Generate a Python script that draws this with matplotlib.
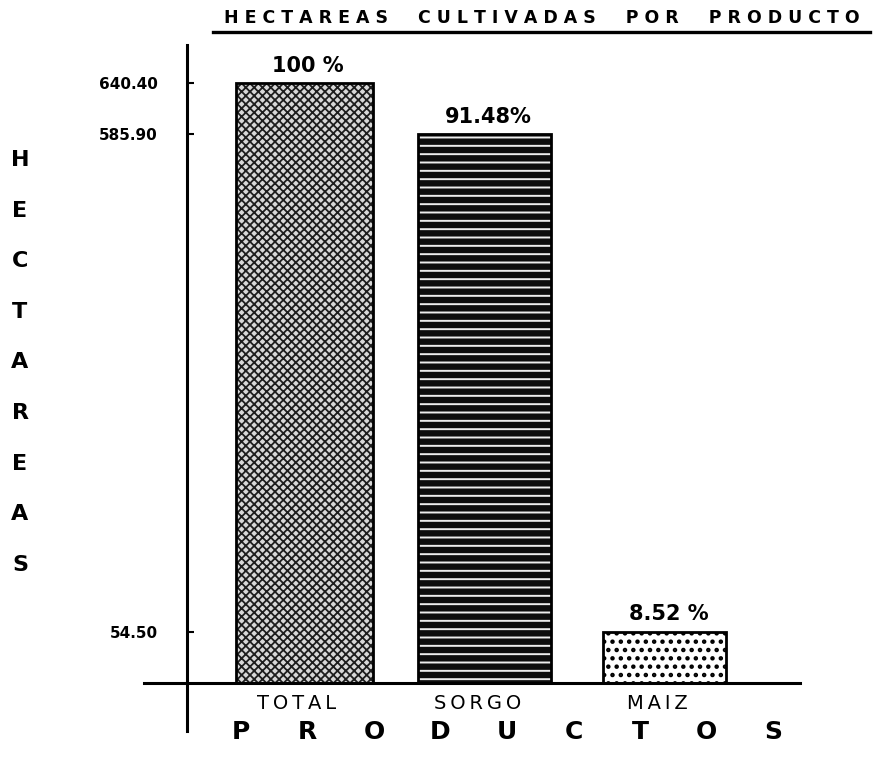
import matplotlib.pyplot as plt

plt.rcParams['font.family'] = ['DejaVu Sans']

# datos
productos = ['TOTAL', 'SORGO', 'MAIZ']
hectareas = [640.40, 585.90, 54.50]
porcentajes = ['100 %', '91.48%', '8.52 %']
ticks_y = [54.50, 585.90, 640.40]
tick_labels = ['54.50', '585.90', '640.40']

W, H = 878, 757
fig = plt.figure(figsize=(W / 100, H / 100), dpi=100)
ax = fig.add_axes([187 / W, 1 - 683 / H, (800 - 187) / W, (683 - 45) / H])

x = [0, 1, 2]
ax.set_xlim(-0.65, 2.75)
ax.set_ylim(0, 640.40 * (683 - 45) / (683 - 83))

# rellenos de las barras
plt.rcParams['hatch.linewidth'] = 1.3
ax.bar(x[0], hectareas[0], width=0.76, facecolor='#d8d8d8', edgecolor='#1e1e1e', hatch='xxxx', linewidth=0)
plt.rcParams['hatch.linewidth'] = 1.4
ax.bar(x[1], hectareas[1], width=0.74, facecolor='#0e0e0e', edgecolor='#eeeeee', hatch='--', linewidth=0)
plt.rcParams['hatch.linewidth'] = 2.0
ax.bar(x[2], hectareas[2], width=0.68, facecolor='white', edgecolor='black', hatch='..', linewidth=0)
# contornos
ax.bar(x, hectareas, width=[0.76, 0.74, 0.68], fill=False, edgecolor='black', linewidth=2)

for xi, h, p in zip(x, hectareas, porcentajes):
    ax.text(xi + 0.02, h + 8, p, ha='center', va='bottom', fontsize=15, fontweight='bold')

for xi, name in zip(x, productos):
    ax.text(xi - 0.04, -12, '\u2009'.join(name), ha='center', va='top', fontsize=14)

for s in ax.spines.values():
    s.set_visible(False)
ax.set_xticks([])
ax.set_yticks(ticks_y)
ax.set_yticklabels(tick_labels, fontsize=11, fontweight='bold')
ax.tick_params(axis='y', direction='in', length=5, width=1.5, pad=21)

# ejes dibujados a mano
ax.plot([-0.07, 1.0], [0, 0], transform=ax.transAxes, color='black', lw=2.2, clip_on=False)
ax.plot([0, 0], [-0.075, 1.0], transform=ax.transAxes, color='black', lw=2.2, clip_on=False)

# titulo subrayado
titulo = ['HECTAREAS', 'CULTIVADAS', 'POR', 'PRODUCTO']
fig.text(542 / W, 1 - 18 / H, '     '.join(' '.join(w) for w in titulo),
         ha='center', va='center', fontsize=12.5, fontweight='bold')
fig.add_artist(plt.Line2D([213 / W, 870 / W], [1 - 32 / H, 1 - 32 / H], color='black', lw=2.4))

# etiqueta vertical HECTAREAS
for i, letra in enumerate('HECTAREAS'):
    fig.text(20 / W, 1 - (160 + i * 50.6) / H, letra, ha='center', va='center', fontsize=16, fontweight='heavy')

# etiqueta PRODUCTOS
for i, letra in enumerate('PRODUCTOS'):
    fig.text((241 + i * 66.5) / W, 1 - 732 / H, letra, ha='center', va='center', fontsize=18, fontweight='heavy')

fig.savefig('out.png', dpi=100)
